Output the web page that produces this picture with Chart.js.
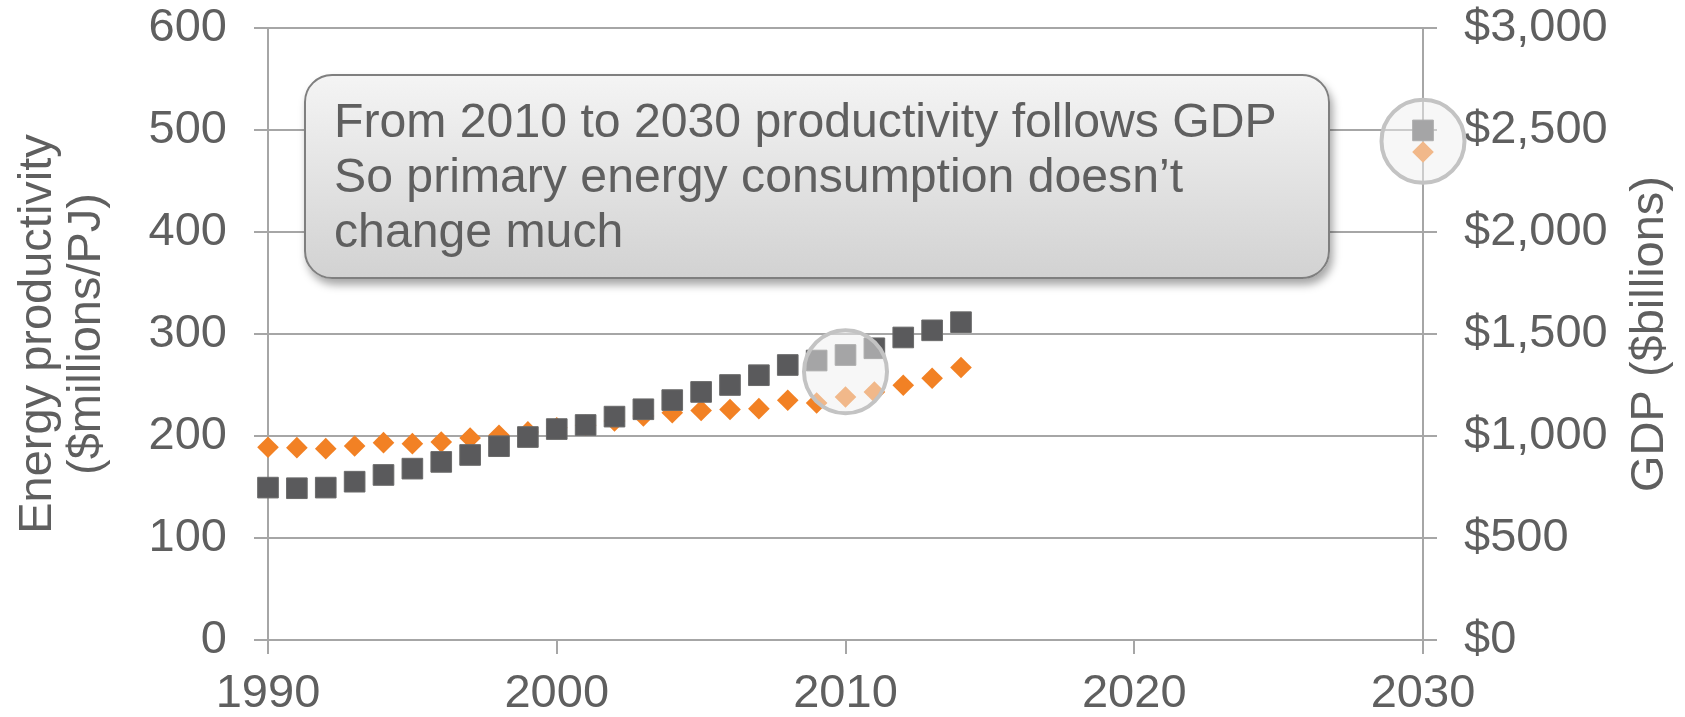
<!DOCTYPE html>
<html lang="en">
<head>
    <meta charset="UTF-8">
    <title>Energy productivity and GDP</title>
    <script src="https://cdn.jsdelivr.net/npm/chart.js@4.4.0/dist/chart.umd.min.js"></script>
    <style>
        body {margin: 0; background: white}
        #wrap {position: relative; width: 1685px; height: 717px}
        #callout {
            position: absolute; left: 304px; top: 74px; width: 1026px; height: 205px;
            box-sizing: border-box; border: 2px solid #7f7f7f; border-radius: 28px;
            background: linear-gradient(#f4f4f4, #d2d2d2);
            box-shadow: 3px 6px 8px rgba(0, 0, 0, 0.35);
            font-family: "Liberation Sans", Arial, sans-serif; font-size: 48.2px; line-height: 55px;
            color: #5f5f5f; padding: 17px 0 0 28px; white-space: nowrap;
        }
    </style>
</head>
<body>
<div id="wrap">
    <canvas id="chart" width="1685" height="717"></canvas>
    <div id="callout">From 2010 to 2030 productivity follows GDP<br>So primary energy consumption doesn’t<br>change much</div>
</div>
<script>

    const years = [1990, 1991, 1992, 1993, 1994, 1995, 1996, 1997, 1998, 1999,
        2000, 2001, 2002, 2003, 2004, 2005, 2006, 2007, 2008, 2009,
        2010, 2011, 2012, 2013, 2014, 2030];
    // GDP, $billions (right axis)
    const gdp = [747, 744, 747, 776, 809, 840, 873, 907, 950, 995,
        1034, 1054, 1095, 1131, 1176, 1216, 1250, 1298, 1348, 1370,
        1397, 1430, 1483, 1518, 1558, 2498];
    // energy productivity, $millions/PJ (left axis)
    const productivity = [189, 188.6, 187.6, 190.2, 193.5, 192.5, 194.1, 198, 200.7, 204,
        208, 210.5, 214.7, 219.6, 222.9, 225, 226, 226.8, 235, 232.4,
        238.2, 243.1, 249.7, 256.6, 267.1, 478.4];
    const leftTicks = [0, 100, 200, 300, 400, 500, 600];
    const rightTicks = [0, 500, 1000, 1500, 2000, 2500, 3000];
    // circled points: [year, energy productivity]
    const highlights = [[2010, 263], [2030, 489]];

    const textColor = '#5f5f5f';
    const gridColor = '#a6a6a6';
    const font = {family: '"Liberation Sans", Arial, sans-serif', size: 47};

    const circles = {
        id: 'circles',
        afterDatasetsDraw(chart) {
            const ctx = chart.ctx;
            const x = chart.scales.x, y = chart.scales.y;
            ctx.save();
            highlights.forEach(h => {
                ctx.beginPath();
                ctx.arc(x.getPixelForValue(h[0]), y.getPixelForValue(h[1]), 41.5, 0, Math.PI * 2);
                ctx.fillStyle = 'rgba(240,240,240,0.5)';
                ctx.fill();
                ctx.lineWidth = 4;
                ctx.strokeStyle = '#c3c3c3';
                ctx.stroke();
            });
            ctx.restore();
        }
    };

    // right axis title reads bottom-to-top like the left one
    const rightTitle = {
        id: 'rightTitle',
        afterDraw(chart) {
            const ctx = chart.ctx, a = chart.chartArea;
            ctx.save();
            ctx.translate(1650, (a.top + a.bottom) / 2);
            ctx.rotate(-Math.PI / 2);
            ctx.font = '47px "Liberation Sans", Arial, sans-serif';
            ctx.fillStyle = textColor;
            ctx.textAlign = 'center';
            ctx.textBaseline = 'middle';
            ctx.fillText('GDP ($billions)', 0, 0);
            ctx.restore();
        }
    };

    function fitY(width) {
        return s => {
            s.width = width;
            s.paddingTop = 28;
            s.paddingBottom = 0;
        };
    }

    const chart = new Chart('chart', {
        type: 'scatter',
        data: {
            datasets: [
                {
                    label: 'GDP',
                    data: years.map((yr, i) => ({x: yr, y: gdp[i]})),
                    yAxisID: 'y1',
                    pointStyle: 'rect',
                    pointRadius: 14.6,
                    backgroundColor: '#5a5a5c',
                    borderColor: '#6a6a6a',
                    borderWidth: 1,
                    clip: false
                },
                {
                    label: 'Energy productivity',
                    data: years.map((yr, i) => ({x: yr, y: productivity[i]})),
                    yAxisID: 'y',
                    pointStyle: 'rectRot',
                    pointRadius: 10.8,
                    backgroundColor: '#f28124',
                    borderColor: '#f28124',
                    borderWidth: 0,
                    clip: false
                }
            ]
        },
        options: {
            responsive: false,
            animation: false,
            events: [],
            layout: {padding: 0},
            plugins: {legend: {display: false}, tooltip: {enabled: false}},
            scales: {
                x: {
                    type: 'linear', min: 1990, max: 2030,
                    afterFit: s => { s.height = 77; s.paddingLeft = 0; s.paddingRight = 0; },
                    grid: {drawOnChartArea: false, drawTicks: true, tickLength: 14, color: gridColor, lineWidth: 2},
                    border: {color: gridColor, width: 2},
                    ticks: {stepSize: 10, color: textColor, font: font, padding: 12, maxRotation: 0,
                        callback: v => String(v)}
                },
                y: {
                    position: 'left', min: 0, max: 600,
                    afterFit: fitY(268),
                    afterBuildTicks: s => { s.ticks = leftTicks.map(v => ({value: v})); },
                    grid: {color: gridColor, lineWidth: 2, tickLength: 14},
                    border: {color: gridColor, width: 2},
                    ticks: {color: textColor, font: font, padding: 27},
                    title: {display: true, text: ['Energy productivity', '($millions/PJ)'],
                        color: textColor, font: {...font, lineHeight: 1.05}, padding: {top: 13, bottom: 0}}
                },
                y1: {
                    position: 'right', min: 0, max: 3000,
                    afterFit: fitY(262),
                    afterBuildTicks: s => { s.ticks = rightTicks.map(v => ({value: v})); },
                    grid: {drawOnChartArea: false, color: gridColor, lineWidth: 2, tickLength: 14},
                    border: {color: gridColor, width: 2},
                    ticks: {color: textColor, font: font, padding: 27,
                        callback: v => '$' + v.toLocaleString('en-US')}
                }
            }
        },
        plugins: [circles, rightTitle]
    });

</script>
</body>
</html>
